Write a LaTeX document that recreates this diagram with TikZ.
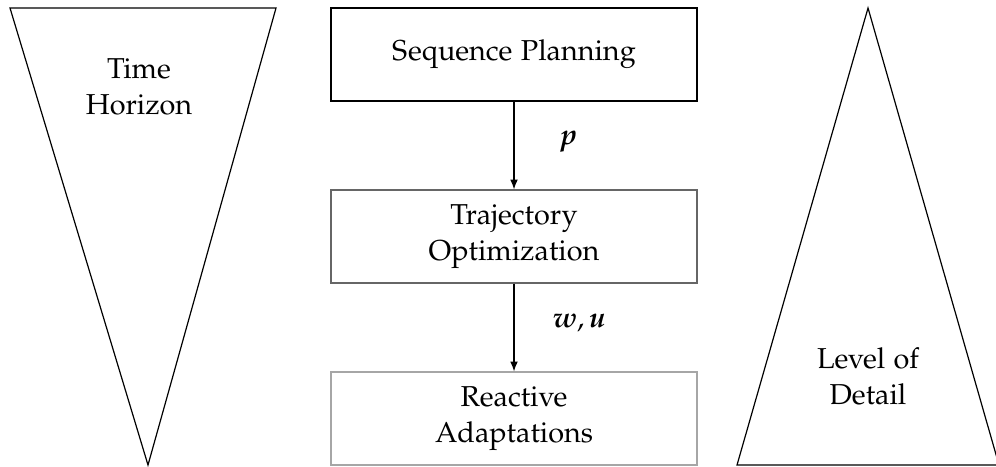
\documentclass[tikz,border=0pt]{standalone}
\usepackage[T1]{fontenc}
\usepackage{amsmath}
\usepackage[sc]{mathpazo}
\usepackage{bm}
\usetikzlibrary{arrows.meta}
\begin{document}
\begin{tikzpicture}[x=0.3333pt,y=-0.3333pt,
  every node/.style={font=\fontsize{9.6pt}{12pt}\selectfont},
  stage/.style={draw, minimum width=122pt, minimum height=31pt,
                align=center, inner sep=0pt},
  flow/.style={-{Latex[length=3.3pt,width=2.6pt]}},
  wedge/.style={draw, line join=miter},
  tag/.style={align=center, inner sep=0pt}]
  \useasboundingbox (0,0) rectangle (996,466);

  % narrowing time horizon and widening level of detail
  \draw[wedge] (10,8) -- (276,8) -- (148,465) -- cycle;
  \draw[wedge] (868,8) -- (999,465) -- (737,465) -- cycle;
  \node[tag] (horizon) at (139,87) {Time\\Horizon};
  \node[tag] (detail) at (868,376) {Level of\\Detail};

  % planning hierarchy
  \node[stage] (seq) at (514,54.5) {Sequence Planning};
  \node[stage, draw=black!60] (traj) at (514,236.5) {Trajectory\\Optimization};
  \node[stage, draw=black!35] (react) at (514,418.5) {Reactive\\Adaptations};

  \draw[flow] (seq) -- (traj)
    node[midway, xshift=18pt, yshift=1.3pt] {$\bm{p}$};
  \draw[flow] (traj) -- (react)
    node[midway, xshift=21.7pt, yshift=1.5pt] {$\bm{w},\bm{u}$};
\end{tikzpicture}
\end{document}
